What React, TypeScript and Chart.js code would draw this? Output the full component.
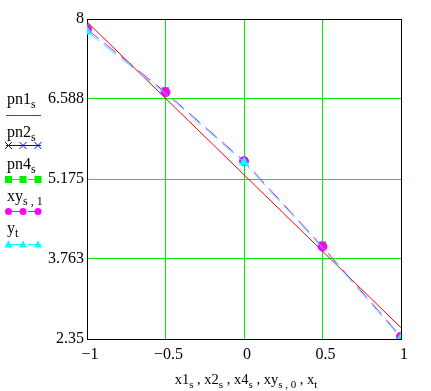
import React, { useEffect, useRef } from "react";
import { Chart, registerables } from "chart.js";

Chart.register(...registerables);

// ---- data ----
const xValues = [-1, -0.5, 0, 0.5, 1];
const pn1Values = [7.95, 6.6, 5.25, 3.9, 2.55];
const pn2Values: number[] = [];
const pn4Values = [7.85, 6.735, 5.5, 4.01, 2.4];
const xyValues = [7.82, 6.705, 5.49, 3.98, 2.39];
const yValues = [7.78, 6.685, 5.47, 3.96, 2.37];

const xTickValues = [-1, -0.5, 0, 0.5, 1];
const xTickLabels = ["\u22121", "\u22120.5", "0", "0.5", "1"];
const yTickValues = [2.35, 3.763, 5.175, 6.588, 8];
const yTickLabels = ["2.35", "3.763", "5.175", "6.588", "8"];

const legendNames = ["pn1", "pn2", "pn4", "xy", "y"];
const legendSubs = ["s", "s", "s", "s , 1", "t"];

const xTitleMains = ["x1", "x2", "x4", "xy", "x"];
const xTitleSubs = ["s", "s", "s", "s , 0", "t"];

const FONT = "'Liberation Serif'";
const GREEN = "#00f000";
const RED = "#ff0000";
const BLUE = "#0000ff";
const MAGENTA = "#ff00ff";
const CYAN = "#00ffff";
const DASH = [15, 7];

function drawMarker(ctx: CanvasRenderingContext2D, kind: string, x: number, y: number, color: string) {
  ctx.save();
  ctx.fillStyle = color;
  ctx.strokeStyle = color;
  ctx.lineWidth = 1;
  ctx.setLineDash([]);
  if (kind === "rect") {
    ctx.fillRect(x - 3.5, y - 3.5, 7, 7);
  } else if (kind === "circle") {
    ctx.beginPath();
    ctx.arc(x, y, 3.5, 0, Math.PI * 2);
    ctx.fill();
  } else if (kind === "triangle") {
    ctx.beginPath();
    ctx.moveTo(x, y - 4);
    ctx.lineTo(x + 4, y + 3);
    ctx.lineTo(x - 4, y + 3);
    ctx.closePath();
    ctx.fill();
  } else if (kind === "cross") {
    ctx.beginPath();
    ctx.moveTo(x - 3.5, y - 3.5);
    ctx.lineTo(x + 3.5, y + 3.5);
    ctx.moveTo(x + 3.5, y - 3.5);
    ctx.lineTo(x - 3.5, y + 3.5);
    ctx.stroke();
  }
  ctx.restore();
}

const legendColors = [RED, BLUE, GREEN, MAGENTA, CYAN];
const legendMarkers = ["none", "cross", "rect", "circle", "triangle"];
const legendDashed = [false, false, true, true, true];
const legendTextBase = [104, 137, 169, 201, 233];
const legendLineY = [115, 145, 179, 211, 244];

const decorPlugin = {
  id: "decor",
  beforeDatasetsDraw(chart: any) {
    const { ctx, chartArea } = chart;
    ctx.save();
    ctx.strokeStyle = "#000";
    ctx.lineWidth = 1;
    ctx.setLineDash([]);
    const l = Math.round(chartArea.left) + 0.5;
    const t = Math.round(chartArea.top) + 0.5;
    const r = Math.round(chartArea.right) + 0.5;
    const b = Math.round(chartArea.bottom) + 0.5;
    ctx.strokeRect(l, t, r - l, b - t);
    ctx.restore();
  },
  afterDraw(chart: any) {
    const { ctx } = chart;
    ctx.save();
    const mx = [8.5, 23, 38];
    legendNames.forEach((_n, i) => {
      ctx.save();
      ctx.strokeStyle = legendColors[i];
      ctx.lineWidth = 1;
      ctx.setLineDash(legendDashed[i] ? DASH : []);
      ctx.beginPath();
      ctx.moveTo(6, legendLineY[i] + 0.5);
      ctx.lineTo(41, legendLineY[i] + 0.5);
      ctx.stroke();
      ctx.restore();
      if (legendMarkers[i] !== "none") {
        mx.forEach((x) => drawMarker(ctx, legendMarkers[i], x, legendLineY[i] + 0.5, legendColors[i]));
      }
    });
    ctx.restore();
  },
};

const textStyle: React.CSSProperties = {
  position: "absolute",
  fontFamily: FONT,
  fontSize: 16,
  lineHeight: "16px",
  whiteSpace: "nowrap",
  color: "#000",
};
const subStyle: React.CSSProperties = { fontSize: 12, verticalAlign: -4 };
const titleStyle: React.CSSProperties = { ...textStyle, fontSize: 14.5 };
const titleSubStyle: React.CSSProperties = { fontSize: 11, verticalAlign: -4 };

export default function App() {
  const canvasRef = useRef<HTMLCanvasElement | null>(null);

  useEffect(() => {
    document.body.style.margin = "0";
    const canvas = canvasRef.current;
    if (!canvas) return;
    let chart: any = null;
    let cancelled = false;
    const pts = (vals: number[]) => vals.map((v, i) => ({ x: xValues[i], y: v }));
    const gridColor = (edgeVals: number[]) => (c: any) =>
      c.tick && edgeVals.includes(c.tick.value) ? "rgba(0,0,0,0)" : GREEN;

    const build = () => {
      if (cancelled) return;
      chart = new Chart(canvas, {
        type: "line",
        data: {
          datasets: [
            {
              label: "y_t",
              data: pts(yValues),
              borderColor: CYAN,
              backgroundColor: CYAN,
              borderWidth: 1,
              borderDash: DASH,
              pointStyle: "triangle",
              pointRadius: [5, 0, 5, 0, 5],
              pointBorderWidth: 1,
              order: 0,
              clip: 0,
            } as any,
            {
              label: "xy_s,1",
              data: pts(xyValues),
              borderColor: MAGENTA,
              backgroundColor: MAGENTA,
              borderWidth: 1,
              borderDash: DASH,
              pointStyle: "circle",
              pointRadius: 4.5,
              pointBorderWidth: 1,
              order: 1,
              clip: 0,
            } as any,
            {
              label: "pn4_s",
              data: pts(pn4Values),
              borderColor: GREEN,
              backgroundColor: GREEN,
              showLine: false,
              pointStyle: "rect",
              pointRadius: 4.5,
              pointBorderWidth: 1,
              order: 2,
              clip: 0,
            } as any,
            {
              label: "pn2_s",
              data: pts(pn2Values),
              borderColor: BLUE,
              backgroundColor: BLUE,
              borderWidth: 1,
              pointStyle: "crossRot",
              pointRadius: 4,
              order: 3,
              clip: 0,
            } as any,
            {
              label: "pn1_s",
              data: pts(pn1Values),
              borderColor: RED,
              backgroundColor: RED,
              borderWidth: 1,
              pointRadius: 0,
              order: 4,
              clip: 0,
            } as any,
          ],
        },
        options: {
          animation: false,
          responsive: false,
          devicePixelRatio: 1,
          events: [],
          layout: { padding: { top: 19, right: 30, left: 0, bottom: 0 } },
          plugins: { legend: { display: false }, tooltip: { enabled: false }, title: { display: false } },
          scales: {
            x: {
              type: "linear",
              min: -1,
              max: 1,
              afterBuildTicks: (s: any) => {
                s.ticks = xTickValues.map((v) => ({ value: v }));
              },
              afterFit: (s: any) => {
                s.height = 52;
              },
              ticks: {
                callback: (_v: any, i: number) => xTickLabels[i],
                font: { family: FONT, size: 16 },
                color: "#000",
                padding: 6,
                labelOffset: 3,
                maxRotation: 0,
                autoSkip: false,
              },
              grid: { color: gridColor([-1, 1]), lineWidth: 1, drawTicks: false },
              border: { display: false },
            },
            y: {
              type: "linear",
              min: 2.35,
              max: 8,
              afterBuildTicks: (s: any) => {
                s.ticks = yTickValues.map((v) => ({ value: v }));
              },
              afterFit: (s: any) => {
                s.width = 87;
              },
              ticks: {
                callback: (_v: any, i: number) => yTickLabels[i],
                font: { family: FONT, size: 16 },
                color: "#000",
                padding: 3,
                autoSkip: false,
              },
              grid: { color: gridColor([2.35, 8]), lineWidth: 1, drawTicks: false },
              border: { display: false },
            },
          },
        },
        plugins: [decorPlugin],
      } as any);
    };

    const fonts: any = (document as any).fonts;
    const go = () => requestAnimationFrame(() => requestAnimationFrame(build));
    if (fonts && fonts.ready) {
      fonts.ready.then(go, go);
    } else {
      go();
    }
    return () => {
      cancelled = true;
      if (chart) chart.destroy();
    };
  }, []);

  return (
    <div style={{ position: "relative", width: 431, height: 391, background: "#fff", overflow: "hidden" }}>
      <canvas ref={canvasRef} width={431} height={391} style={{ display: "block" }} />
      {legendNames.map((n, i) => (
        <div key={n} style={{ ...textStyle, left: 7, top: legendTextBase[i] - 13.4 }}>
          {n}
          <span style={subStyle}>{legendSubs[i]}</span>
        </div>
      ))}
      <div style={{ ...titleStyle, left: 246, top: 383 - 12.5, transform: "translateX(-50%)" }}>
        {xTitleMains.map((m, i) => (
          <React.Fragment key={i}>
            {i > 0 ? " , " : ""}
            {m}
            <span style={titleSubStyle}>{xTitleSubs[i]}</span>
          </React.Fragment>
        ))}
      </div>
    </div>
  );
}
